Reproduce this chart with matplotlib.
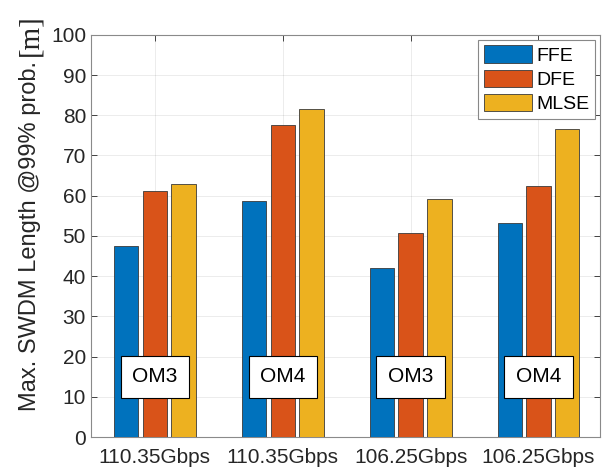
import numpy as np
import matplotlib
matplotlib.use("Agg")
import matplotlib.pyplot as plt

plt.rcParams["font.family"] = ["Liberation Sans", "DejaVu Sans"]

groups  = ["110.35Gbps", "110.35Gbps", "106.25Gbps", "106.25Gbps"]
fibers  = ["OM3", "OM4", "OM3", "OM4"]
series  = ["FFE", "DFE", "MLSE"]
ffe     = [47.4, 58.7, 42.0, 53.3]
dfe     = [61.2, 77.6, 50.7, 62.5]
mlse    = [62.9, 81.6, 59.2, 76.7]
colors  = ["#0072BD", "#D95319", "#EDB120"]

fig = plt.figure(figsize=(6.14, 4.70), dpi=100)
ax = fig.add_axes([0.148, 0.070, 0.829, 0.856])

x = np.arange(1, len(groups) + 1)
width = 0.19
step = 0.225
for i, (name, vals) in enumerate(zip(series, [ffe, dfe, mlse])):
    ax.bar(x + (i - 1) * step, vals, width, color=colors[i], edgecolor="#3a3a3a",
           linewidth=0.6, label=name, zorder=3)

for xi, lab in zip(x, fibers):
    ax.text(xi, 15, lab, ha="center", va="center", fontsize=15, zorder=5,
            bbox=dict(boxstyle="square,pad=0.55", fc="white", ec="black", lw=0.8))

ax.set_xlim(0.5, 4.48)
ax.set_ylim(0, 100)
ax.set_yticks(np.arange(0, 101, 10))
ax.set_xticks(x)
ax.set_xticklabels(groups)
ax.tick_params(direction="in", labelsize=15, colors="#262626", length=4,
               top=True, right=True, width=0.6)
ax.tick_params(axis="x", pad=8)
ax.grid(True, color="#262626", alpha=0.10, lw=0.6, zorder=0)
for s in ax.spines.values():
    s.set_color("#8a8a8a")
    s.set_linewidth(0.8)

ylab = ax.set_ylabel("Max. SWDM Length @99% prob.", fontsize=17, color="#262626")
ax.yaxis.set_label_coords(-0.097, 0.50)

leg = ax.legend(loc="upper right", fontsize=14, handlelength=2.5, handleheight=1.0,
                borderaxespad=0.25, fancybox=False, edgecolor="#888888",
                labelspacing=0.25, handletextpad=0.2, borderpad=0.3, framealpha=1)
leg.get_frame().set_linewidth(0.8)

# unit part in a serif face, larger, stacked above the label
fig.canvas.draw()
bb = ylab.get_window_extent()
fig.text((bb.x0 + bb.x1) / 2 / fig.bbox.width, (bb.y1 + 5) / fig.bbox.height, "[m]",
         rotation=90, ha="center", va="bottom", fontsize=21, color="#262626",
         family=["Liberation Serif", "DejaVu Serif"])

fig.savefig("out.png", dpi=100)
